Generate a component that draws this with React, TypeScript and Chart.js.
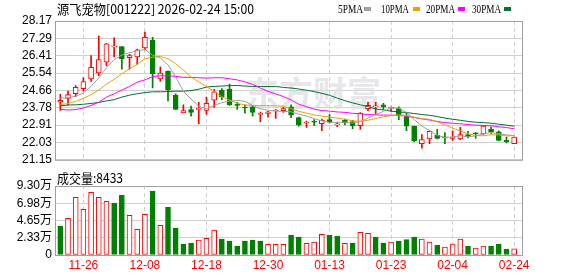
import { useEffect, useRef } from 'react';
import { Chart, registerables } from 'chart.js';
Chart.register(...registerables);

const dates = ['11-21','11-24','11-25','11-26','11-27','11-28','12-01','12-02','12-03','12-04','12-05','12-08','12-09','12-10','12-11','12-12','12-15','12-16','12-17','12-18','12-19','12-22','12-23','12-24','12-25','12-26','12-29','12-30','12-31','01-05','01-06','01-07','01-08','01-09','01-12','01-13','01-14','01-15','01-16','01-19','01-20','01-21','01-22','01-23','01-26','01-27','01-28','01-29','01-30','02-02','02-03','02-04','02-05','02-06','02-09','02-10','02-11','02-12','02-13','02-24'];

const opens = [24.06,24.25,24.50,24.75,25.24,25.54,26.09,26.86,26.88,26.32,26.35,26.81,27.21,25.24,25.62,24.42,23.52,23.69,23.70,23.65,24.16,24.67,24.72,23.93,23.80,23.83,23.44,23.49,23.62,23.64,23.83,23.28,23.01,23.08,22.98,23.18,22.92,23.15,23.08,22.88,23.74,23.83,23.93,23.75,23.74,23.34,22.85,21.97,22.20,22.39,22.30,22.23,22.20,22.43,22.49,22.46,22.69,22.56,22.13,21.97];
const highs = [24.46,24.62,24.91,25.31,26.42,27.42,27.04,27.32,26.88,26.48,26.75,27.61,27.34,25.85,25.65,24.49,23.93,23.87,24.06,24.32,24.72,24.75,24.98,24.06,23.93,23.88,23.56,23.60,23.69,23.80,23.93,23.31,23.11,23.18,23.21,23.44,23.05,23.21,23.15,23.54,24.06,24.06,24.00,23.83,23.83,23.51,22.85,22.43,22.62,22.69,22.53,22.62,22.79,22.59,22.53,22.89,22.82,22.62,22.30,22.30];
const lows = [23.65,23.93,24.34,24.62,25.11,25.40,25.90,26.35,25.73,25.73,25.98,26.71,24.78,25.11,24.13,23.70,23.52,23.36,22.98,23.44,23.80,24.19,23.90,23.70,23.51,23.36,23.08,23.31,23.24,23.54,23.28,22.85,22.79,22.88,22.62,23.01,22.82,22.92,22.72,22.69,23.64,23.44,23.70,23.60,23.18,22.62,22.07,21.74,21.97,22.20,21.97,22.13,22.17,22.26,22.23,22.43,22.49,22.10,22.00,21.97];
const closes = [24.16,24.45,24.82,25.11,25.83,26.22,27.01,26.92,26.26,26.42,26.71,27.34,25.50,25.54,24.68,23.70,23.64,23.54,23.74,24.01,24.59,24.34,23.93,23.90,23.77,23.54,23.51,23.57,23.66,23.74,23.41,22.92,23.05,23.05,23.15,23.05,22.96,23.02,22.88,23.51,23.90,23.87,23.83,23.77,23.41,22.85,22.10,22.17,22.59,22.23,22.26,22.30,22.43,22.33,22.46,22.85,22.56,22.13,22.07,22.30];

const ma5 = [24.26,24.29,24.37,24.52,24.87,25.29,25.80,26.22,26.45,26.57,26.66,26.73,26.44,26.30,25.95,25.35,24.61,24.22,23.86,23.73,23.90,24.04,24.12,24.15,24.11,23.90,23.73,23.66,23.61,23.60,23.58,23.46,23.36,23.23,23.12,23.04,23.05,23.05,23.01,23.08,23.25,23.44,23.60,23.78,23.76,23.55,23.19,22.86,22.62,22.39,22.27,22.31,22.36,22.31,22.36,22.47,22.53,22.47,22.41,22.38];
const ma10 = [23.93,24.00,24.10,24.25,24.45,24.68,24.97,25.22,25.50,25.75,25.98,26.26,26.34,26.38,26.26,26.01,25.68,25.34,25.09,24.84,24.63,24.33,24.17,24.01,23.92,23.90,23.89,23.89,23.88,23.86,23.74,23.60,23.51,23.42,23.36,23.31,23.26,23.20,23.12,23.10,23.15,23.24,23.32,23.39,23.42,23.40,23.31,23.23,23.20,23.07,22.91,22.75,22.61,22.47,22.37,22.37,22.42,22.41,22.36,22.37];
const ma20 = [23.70,23.67,23.69,23.77,23.90,24.06,24.32,24.49,24.68,24.86,25.08,25.19,25.36,25.40,25.40,25.37,25.32,25.32,25.30,25.28,25.30,25.30,25.25,25.19,25.09,24.96,24.78,24.61,24.48,24.35,24.18,23.96,23.84,23.71,23.64,23.61,23.57,23.55,23.50,23.48,23.44,23.42,23.41,23.41,23.39,23.36,23.29,23.22,23.16,23.09,23.03,23.00,22.97,22.93,22.90,22.89,22.87,22.82,22.78,22.72];
const ma30 = [23.88,23.92,23.93,23.96,24.00,24.05,24.13,24.19,24.32,24.42,24.49,24.55,24.59,24.59,24.60,24.62,24.62,24.65,24.72,24.83,24.86,24.88,24.90,24.91,24.88,24.86,24.86,24.86,24.86,24.81,24.78,24.73,24.67,24.60,24.51,24.41,24.27,24.14,24.03,23.93,23.84,23.72,23.67,23.61,23.57,23.54,23.49,23.44,23.40,23.34,23.26,23.20,23.15,23.09,23.05,23.03,23.00,22.95,22.90,22.85];

const volumes = [39100,49400,77700,61600,84500,77700,72300,69600,80900,53500,34600,54800,86300,40000,64700,36400,14800,16200,20200,22500,33700,21600,18900,12100,18900,20200,18900,14400,14400,14400,27000,24300,15700,17500,27900,27000,25600,15700,16200,30600,29200,24300,16200,17500,18900,20700,24300,21600,17500,13000,10800,14800,21600,12100,9400,12100,12100,14800,8100,8433];
const volUp = [0,1,1,1,1,1,1,0,0,1,1,1,0,1,0,0,0,0,1,1,1,0,0,0,0,0,0,1,1,1,0,0,1,1,1,0,0,1,0,1,1,0,0,1,0,0,0,1,1,0,1,1,1,0,1,1,0,0,0,1];

const priceTicks = [21.15,22.03,22.91,23.78,24.66,25.54,26.41,27.29,28.17];
const volTicks = [0,23250,46500,69750,93000];
const volTickLabels = ['0','2.33万','4.65万','6.98万','9.30万'];
const labelIdx = [3,11,19,27,35,43,51,59];

const titleText = '源飞宠物[001222] 2026-02-24 15:00';
const volTitle = '成交量:8433';
const maNames = ['5PMA','10PMA','20PMA','30PMA'];

const RED = '#ff0000';
const GREEN = '#008000';
const MA_COLORS = ['#a0a0a0','#f0a000','#ff00ff','#006f35'];
const X_MIN = -0.69;
const X_MAX = 60.02;
const SANS = '"Liberation Sans", "Noto Sans CJK SC", sans-serif';
const CJK = '"Noto Sans CJK SC", "Liberation Sans", sans-serif';

function frame(chart: any) {
  const { ctx, chartArea: a } = chart;
  ctx.save();
  ctx.strokeStyle = '#a0a0a0';
  ctx.lineWidth = 1;
  ctx.strokeRect(a.left + 0.5, a.top + 0.5, a.right - a.left, a.bottom - a.top);
  ctx.restore();
}

function xScale(showLabels: boolean) {
  return {
    type: 'linear',
    min: X_MIN,
    max: X_MAX,
    offset: false,
    grid: { color: '#d0d0d0', drawTicks: false, offset: false, lineWidth: 1 },
    border: { display: false, dash: [4, 3] },
    afterBuildTicks: (s: any) => { s.ticks = labelIdx.map(v => ({ value: v })); },
    afterFit: (s: any) => { s.height = showLabels ? 21 : 0; },
    ticks: {
      display: showLabels,
      autoSkip: false,
      maxRotation: 0,
      padding: 3,
      color: RED,
      font: { family: SANS, size: 12 },
      callback: (v: any) => dates[Number(v)] ?? '',
    },
  };
}

function yTicks(labelFn: (v: number) => string) {
  return {
    padding: 3,
    autoSkip: false,
    color: '#000',
    font: { family: SANS, size: 12 },
    callback: (v: any) => labelFn(Number(v)),
  };
}

export default function App() {
  const refA = useRef<HTMLCanvasElement>(null);
  const refB = useRef<HTMLCanvasElement>(null);

  useEffect(() => {
    document.body.style.margin = '0';
    const idx = dates.map((_, i) => i);
    const up = idx.map(i => closes[i] >= opens[i]);

    const decorA = {
      id: 'decorA',
      beforeDatasetsDraw(chart: any) {
        const ctx = chart.ctx;
        ctx.save();
        ctx.font = 'bold 34px ' + CJK;
        ctx.fillStyle = 'rgba(222,222,228,0.75)';
        ctx.textBaseline = 'middle';
        ctx.fillText('东方财富', 245, 93);
        frame(chart);
        ctx.restore();
      },
      afterDraw(chart: any) {
        const ctx = chart.ctx;
        ctx.save();
        ctx.fillStyle = '#000';
        ctx.textBaseline = 'middle';
        ctx.font = '13px ' + CJK;
        ctx.fillText(titleText, 57, 9, 197);
        const lx = [338, 381, 426, 472];
        const lw = [25, 28, 29, 29];
        const sx = [364, 413, 458, 504];
        ctx.font = '12px "Liberation Serif", serif';
        maNames.forEach((n, k) => {
          ctx.fillStyle = '#000';
          ctx.fillText(n, lx[k], 9.5, lw[k]);
          ctx.fillStyle = MA_COLORS[k];
          ctx.fillRect(sx[k], 7, 7, 4);
        });
        ctx.restore();
      },
    };

    const chartA = new Chart(refA.current!, {
      type: 'bar',
      data: {
        datasets: [
          ...[ma5, ma10, ma20, ma30].map((arr, k) => ({
            type: 'line' as const,
            data: arr.map((v, i) => ({ x: i, y: v })),
            borderColor: MA_COLORS[k],
            borderWidth: 1,
            pointRadius: 0,
            tension: 0,
            fill: false,
            order: 0,
          })),
          {
            type: 'bar' as const,
            data: idx.map(i => ({ x: i, y: [opens[i], closes[i]] })),
            backgroundColor: idx.map(i => (up[i] ? '#ffffff' : GREEN)),
            borderColor: idx.map(i => (up[i] ? RED : GREEN)),
            borderWidth: 1,
            borderSkipped: false,
            barThickness: 5,
            minBarLength: 1,
            grouped: false,
            order: 1,
          },
          {
            type: 'bar' as const,
            data: idx.map(i => ({ x: i, y: [lows[i], highs[i]] })),
            backgroundColor: idx.map(i => (up[i] ? RED : GREEN)),
            borderWidth: 0,
            barThickness: 1,
            grouped: false,
            order: 2,
          },
        ] as any,
      },
      options: {
        animation: false,
        responsive: false,
        devicePixelRatio: 1,
        events: [],
        layout: { padding: { left: 0, right: 56, top: 21, bottom: 6 } },
        plugins: { legend: { display: false }, tooltip: { enabled: false } },
        scales: {
          x: xScale(false) as any,
          y: {
            type: 'linear',
            position: 'left',
            min: 21.15,
            max: 28.17,
            beginAtZero: false,
            afterBuildTicks: (s: any) => { s.ticks = priceTicks.map(v => ({ value: v })); },
            afterFit: (s: any) => { s.width = 55; },
            grid: { color: '#d0d0d0', drawTicks: false },
            border: { display: false },
            ticks: yTicks(v => v.toFixed(2)),
          },
        },
      },
      plugins: [decorA],
    });

    const decorB = {
      id: 'decorB',
      beforeDatasetsDraw(chart: any) { frame(chart); },
      afterDraw(chart: any) {
        const ctx = chart.ctx;
        ctx.save();
        ctx.fillStyle = '#000';
        ctx.textBaseline = 'middle';
        ctx.font = '13px ' + CJK;
        ctx.fillText(volTitle, 57, 8, 66);
        ctx.restore();
      },
    };

    const chartB = new Chart(refB.current!, {
      type: 'bar',
      data: {
        datasets: [
          {
            data: idx.map(i => ({ x: i, y: volumes[i] })),
            backgroundColor: idx.map(i => (volUp[i] ? '#ffffff' : GREEN)),
            borderColor: idx.map(i => (volUp[i] ? RED : GREEN)),
            borderWidth: 1,
            borderSkipped: false,
            barThickness: 5,
            grouped: false,
          },
        ] as any,
      },
      options: {
        animation: false,
        responsive: false,
        devicePixelRatio: 1,
        events: [],
        layout: { padding: { left: 0, right: 56, top: 16, bottom: 0 } },
        plugins: { legend: { display: false }, tooltip: { enabled: false } },
        scales: {
          x: xScale(true) as any,
          y: {
            type: 'linear',
            position: 'left',
            min: 0,
            max: 93000,
            afterBuildTicks: (s: any) => { s.ticks = volTicks.map(v => ({ value: v })); },
            afterFit: (s: any) => { s.width = 55; },
            grid: { color: '#d0d0d0', drawTicks: false },
            border: { display: false },
            ticks: yTicks(v => volTickLabels[volTicks.indexOf(v)] ?? ''),
          },
        },
      },
      plugins: [decorB],
    });

    return () => { chartA.destroy(); chartB.destroy(); };
  }, []);

  return (
    <div style={{ position: 'relative', width: 578, height: 276, background: '#fff' }}>
      <canvas ref={refA} width={578} height={170} style={{ position: 'absolute', left: 0, top: 0 }} />
      <canvas ref={refB} width={578} height={106} style={{ position: 'absolute', left: 0, top: 170 }} />
    </div>
  );
}
